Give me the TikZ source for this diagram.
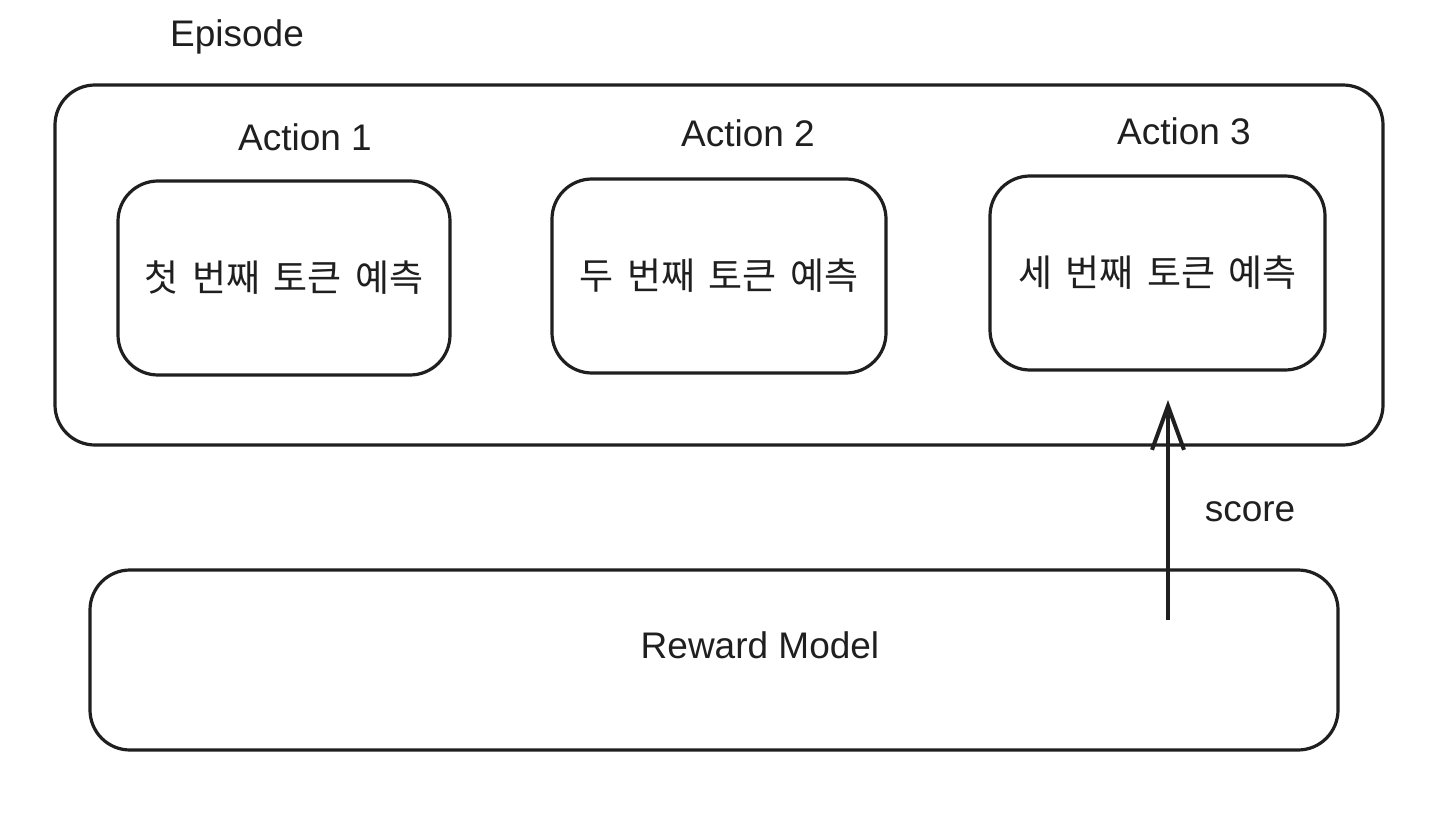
\documentclass[tikz,border=0pt]{standalone}
\usepackage{fontspec}
\setmainfont{Liberation Sans}
\newfontfamily\kor{Noto Sans CJK KR}
\usetikzlibrary{arrows.meta}
\newcommand{\ksp}{\hspace{0.36em}}
\begin{document}
\begin{tikzpicture}[x=0.5pt,y=-0.5pt,
  box/.style={draw=black!88,line width=1.6pt,rounded corners=20pt,inner sep=0pt},
  lbl/.style={font=\fontsize{18.5}{20}\selectfont,text=black!88,inner sep=0pt},
  kt/.style={font=\kor\fontsize{18.5}{20}\selectfont,text=black!88}]
\useasboundingbox (0,0) rectangle (1456,824);
\node[lbl] (episode) at (237,37) {Episode};
\node[box,minimum width=664pt,minimum height=180pt] (outer) at (719,265) {};
\node[lbl] (a1) at (305,137) {Action 1};
\node[lbl] (a2) at (748,133) {Action 2};
\node[lbl] (a3) at (1184,131) {Action 3};
\node[box,kt,minimum width=166pt,minimum height=97pt] (b1) at (284,278) {첫\ksp 번째\ksp 토큰\ksp 예측};
\node[box,kt,minimum width=167pt,minimum height=97pt] (b2) at (719,276) {두\ksp 번째\ksp 토큰\ksp 예측};
\node[box,kt,minimum width=167.5pt,minimum height=97pt] (b3) at (1157.5,273) {세\ksp 번째\ksp 토큰\ksp 예측};
\node[box,minimum width=624pt,minimum height=90pt] (reward) at (714,660) {};
\node[lbl] (rm) at (760,645) {Reward Model};
\coordinate (s) at (1168,620);
\coordinate (t) at (1168,400);
\draw[line width=2pt,draw=black!88,-{Straight Barb[length=22pt,width=16pt,line width=2pt]}] (s) -- (t);
\node[lbl] (score) at (1250,512) {score};
\end{tikzpicture}
\end{document}
